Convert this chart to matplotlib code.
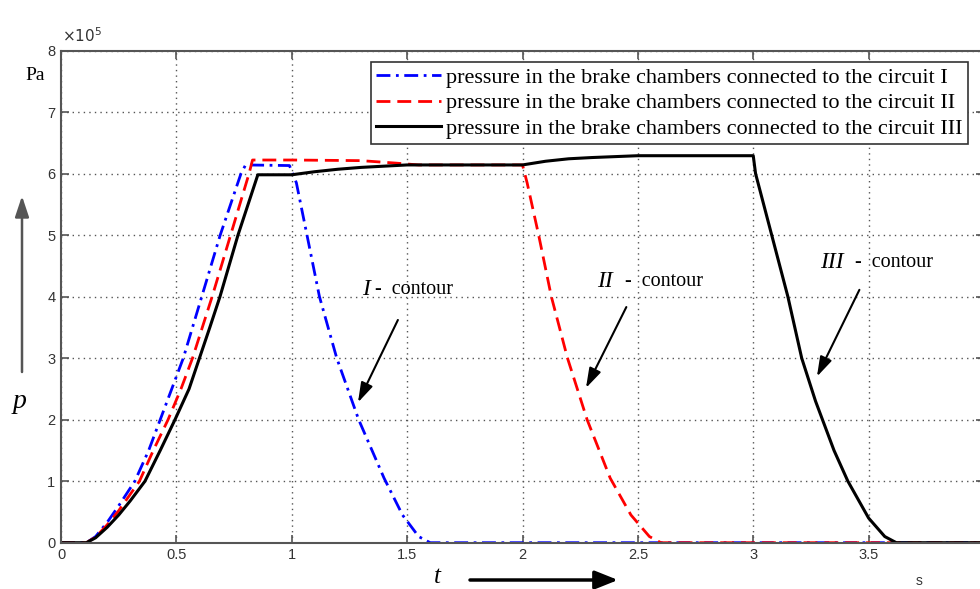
import numpy as np
import matplotlib.pyplot as plt

# time in s, pressure in units of 1e5 Pa
t_circuit1 = [0, 0.11, 0.15, 0.2, 0.25, 0.32, 0.38, 0.43, 0.48, 0.53, 0.57, 0.61, 0.69, 0.78, 0.80,
              0.99, 1.02, 1.066, 1.12, 1.195, 1.29, 1.40, 1.48, 1.55, 1.60, 4.0]
p_circuit1 = [0, 0, 0.1, 0.33, 0.6, 1.0, 1.5, 2.0, 2.5, 3.0, 3.5, 4.0, 5.0, 6.0, 6.14,
              6.13, 5.85, 5.0, 4.0, 3.0, 2.0, 1.05, 0.45, 0.1, 0, 0]

t_circuit2 = [0, 0.11, 0.15, 0.2, 0.25, 0.34, 0.40, 0.464, 0.52, 0.57, 0.655, 0.735, 0.815, 0.83,
              1.0, 1.3, 1.45, 1.55, 2.0,
              2.02, 2.07, 2.125, 2.195, 2.28, 2.38, 2.47, 2.55, 2.60, 4.0]
p_circuit2 = [0, 0, 0.09, 0.29, 0.52, 1.0, 1.5, 2.0, 2.5, 3.0, 4.0, 5.0, 6.0, 6.22,
              6.22, 6.21, 6.17, 6.14, 6.14,
              5.85, 5.0, 4.0, 3.0, 2.0, 1.05, 0.45, 0.1, 0, 0]

t_circuit3 = [0, 0.11, 0.15, 0.2, 0.25, 0.3, 0.364, 0.43, 0.494, 0.555, 0.60, 0.645, 0.689, 0.767,
              0.853, 1.0, 1.1, 1.2, 1.3, 1.4, 1.5, 2.0, 2.1, 2.2, 2.3, 2.5, 3.0,
              3.01, 3.08, 3.15, 3.21, 3.27, 3.35, 3.41, 3.5, 3.57, 3.62, 4.0]
p_circuit3 = [0, 0, 0.08, 0.25, 0.45, 0.68, 1.0, 1.5, 2.0, 2.5, 3.0, 3.5, 4.0, 5.0,
              5.98, 5.98, 6.03, 6.07, 6.10, 6.12, 6.14, 6.14, 6.20, 6.24, 6.26, 6.29, 6.29,
              6.0, 5.0, 4.0, 3.0, 2.3, 1.5, 1.0, 0.4, 0.1, 0, 0]

legend_labels = ['pressure in the brake chambers connected to the circuit I',
                 'pressure in the brake chambers connected to the circuit II',
                 'pressure in the brake chambers connected to the circuit III']
x_tick_labels = ['0', '0.5', '1', '1.5', '2', '2.5', '3', '3.5', '']
y_tick_labels = ['0', '1', '2', '3', '4', '5', '6', '7', '8']

serif = 'Liberation Serif'
sans = 'Liberation Sans'

fig = plt.figure(figsize=(9.8, 5.89), dpi=100)
ax = fig.add_axes([61 / 980, 46.3 / 589, 923 / 980, 492.2 / 589])

ax.plot(t_circuit1, p_circuit1, color='b', lw=2, dashes=(5, 2, 1, 2), label=legend_labels[0])
ax.plot(t_circuit2, p_circuit2, color='r', lw=2, dashes=(5, 2.5), label=legend_labels[1])
ax.plot(t_circuit3, p_circuit3, color='k', lw=2.2, label=legend_labels[2])

ax.set_xlim(0, 4)
ax.set_ylim(0, 8)
ax.set_xticks(np.arange(0, 4.01, 0.5))
ax.set_xticklabels(x_tick_labels)
ax.set_yticks(np.arange(0, 8.01, 1))
ax.set_yticklabels(y_tick_labels)

ax.tick_params(direction='in', top=True, right=True, length=6, width=1.2,
               labelsize=10.5, labelcolor='#333333', color='#555555', pad=4)
for lab in ax.get_xticklabels() + ax.get_yticklabels():
    lab.set_family(sans)
for sp in ax.spines.values():
    sp.set_color('#555555')
    sp.set_linewidth(1.5)
ax.grid(True, color='#555555', lw=1, dashes=(1, 3))

leg = ax.legend(loc='upper right', bbox_to_anchor=(0.983, 0.977), borderaxespad=0,
                prop={'family': serif, 'size': 16}, fancybox=False, framealpha=1,
                edgecolor='#333333', labelspacing=0.22, borderpad=0.25,
                handlelength=2.9, handletextpad=0.25)
leg.get_frame().set_linewidth(1.2)

# contour labels with arrows
contours = [('I', 1.304, 4.11, 1.36, (1.46, 3.62), (1.287, 2.28)),
            ('II', 2.322, 4.24, 2.444, (2.45, 3.83), (2.275, 2.515)),
            ('III', 3.289, 4.55, 3.44, (3.46, 4.11), (3.276, 2.70))]
for num, xn, yn, xd, tail, head in contours:
    ax.text(xn, yn, num, family=serif, style='italic', fontsize=17, va='center')
    ax.text(xd, yn, '-  contour', family=serif, fontsize=14.5, va='center')
    ax.annotate('', xy=head, xytext=tail,
                arrowprops=dict(arrowstyle='-|>,head_length=0.8,head_width=0.25',
                                lw=1.5, color='k', mutation_scale=15, shrinkA=0, shrinkB=0))

# axis captions
fig.text(62 / 980, 1 - 36 / 589, r'$\times10^{5}$', fontsize=11, color='#333333',
         ha='left', va='center')
fig.text(35 / 980, 1 - 75 / 589, 'Pa', family=serif, fontsize=14, ha='center', va='center')
fig.text(20 / 980, 1 - 402 / 589, 'p', family=serif, style='italic', fontsize=20,
         ha='center', va='center')
fig.text(437 / 980, 1 - 577 / 589, 't', family=serif, style='italic', fontsize=18,
         ha='center', va='center')
fig.text(919 / 980, 1 - 581 / 589, 's', family=sans, fontsize=10, color='#333333',
         ha='center', va='center')
ax.annotate('', xy=(618 / 980, 1 - 580 / 589), xytext=(470 / 980, 1 - 580 / 589),
            xycoords='figure fraction', textcoords='figure fraction',
            arrowprops=dict(arrowstyle='-|>,head_length=1.0,head_width=0.4',
                            lw=2.5, color='k', mutation_scale=14, shrinkA=0, shrinkB=0))
ax.annotate('', xy=(22 / 980, 1 - 196 / 589), xytext=(22 / 980, 1 - 372 / 589),
            xycoords='figure fraction', textcoords='figure fraction',
            arrowprops=dict(arrowstyle='-|>,head_length=0.9,head_width=0.3',
                            lw=1.8, color='#555555', mutation_scale=14, shrinkA=0, shrinkB=0))

fig.savefig('out.png', dpi=100)
